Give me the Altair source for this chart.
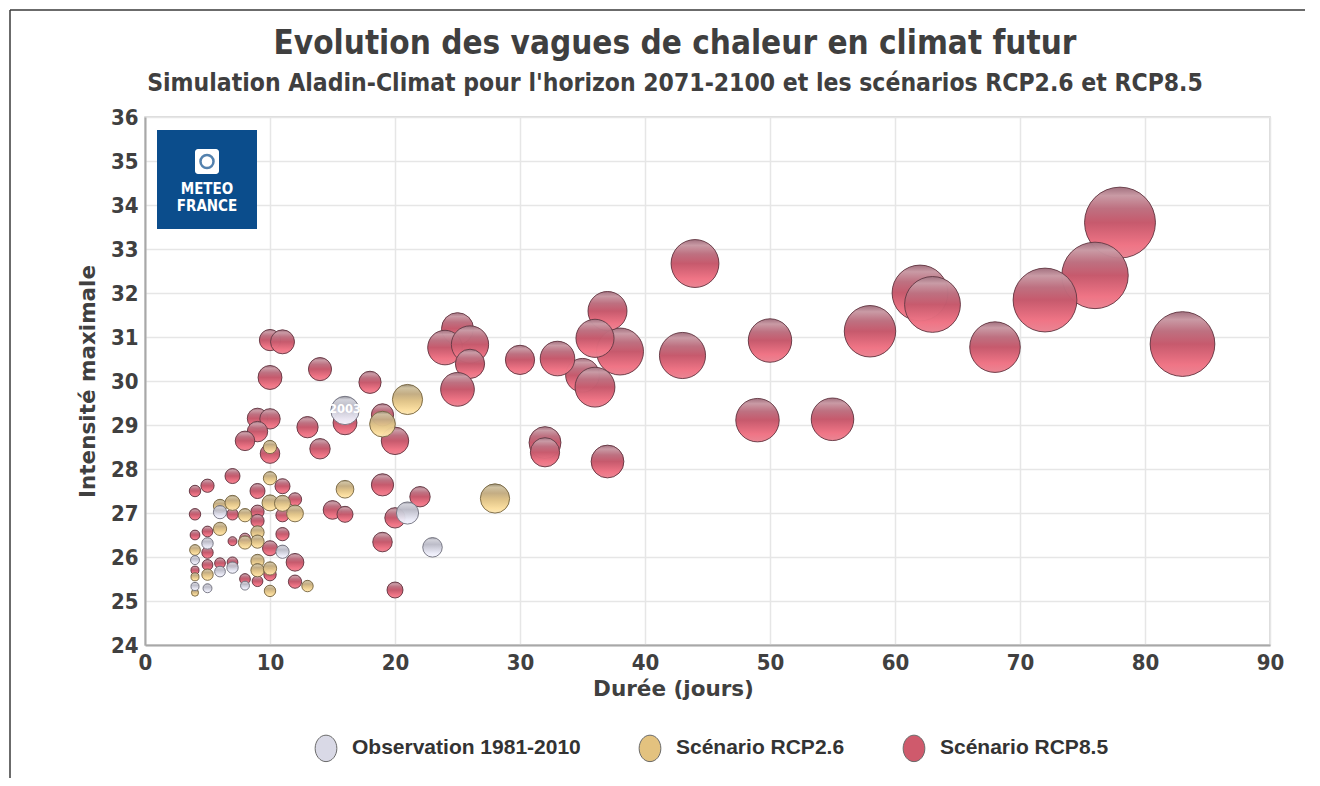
import altair as alt
import pandas as pd

# ---------------- data ----------------
# Observation 1981-2010
obs_duree = [16, 21, 23, 6, 5, 11, 4, 6, 7, 8, 4, 5]
obs_intensite = [29.33, 27.0, 26.22, 27.02, 26.31, 26.12, 25.93, 25.67, 25.76, 25.35, 25.33, 25.29]
obs_severite = [16.0, 9.8, 7.6, 3.5, 2.6, 3.5, 1.6, 2.3, 2.6, 1.6, 1.3, 1.6]

# Scénario RCP2.6
r26_duree = [21, 19, 16, 13, 12, 10, 10, 6, 7, 8, 10, 11, 9, 9, 6, 8, 4, 5, 4, 9, 9, 10, 4, 10, 28]
r26_intensite = [29.58, 29.02, 27.54, 25.34, 26.99, 28.5, 27.79, 27.16, 27.23, 26.95, 27.23, 27.22,
                 26.56, 26.35, 26.64, 26.33, 26.16, 25.6, 25.55, 25.91, 25.7, 25.74, 25.19, 25.23, 27.33]
r26_severite = [18.1, 13.1, 6.25, 2.6, 5.6, 3.5, 3.5, 3.5, 4.5, 3.5, 5.1, 5.1,
                3.5, 3.5, 3.5, 3.5, 2.3, 2.6, 1.3, 3.5, 3.5, 3.5, 1.0, 2.6, 17.0]

# Scénario RCP8.5
r85_duree = [78, 76, 72, 83, 62, 63, 68, 58, 55, 49, 50, 44, 43, 38, 37, 36, 35, 36, 33, 30,
             25, 24, 26, 26, 25, 32, 32, 37,
             14, 18, 16, 13, 14, 19, 20, 19, 22, 15, 16, 20, 19, 20,
             10, 11, 10, 9, 10, 9, 8, 10,
             7, 5, 4, 11, 9, 12, 4, 7, 9, 9, 11, 5, 4, 7, 8, 10, 11, 12, 5, 5, 4, 6, 7, 9, 10, 8, 12]
r85_intensite = [33.6, 32.4, 31.84, 30.84, 32.0, 31.74, 30.77, 31.13, 29.13, 29.11, 30.92, 32.67, 30.58,
                 30.67, 31.59, 30.97, 30.13, 29.86, 30.51, 30.48,
                 31.19, 30.76, 30.83, 30.39, 29.81, 28.6, 28.38, 28.17,
                 30.27, 29.97, 29.05, 28.95, 28.46, 29.23, 28.64, 27.64, 27.37, 27.07, 26.97, 26.89, 26.34, 25.25,
                 30.93, 30.89, 30.08, 29.15, 29.14, 28.85, 28.64, 28.35,
                 27.84, 27.62, 27.5, 27.61, 27.5, 27.31, 26.97, 26.97, 27.03, 26.82, 26.95, 26.58, 26.5, 26.36,
                 26.42, 26.2, 26.52, 25.88, 26.1, 25.82, 25.7, 25.86, 25.88, 25.45, 25.6, 25.5, 25.44]
r85_severite = [100.0, 87.9, 81.0, 83.3, 62.0, 62.0, 50.8, 52.6, 36.0, 37.5, 37.5, 45.6, 42.3, 43.9, 30.3,
                28.9, 22.6, 31.6, 23.8, 17.0,
                20.3, 23.8, 27.6, 17.0, 22.6, 20.3, 17.0, 21.4,
                10.6, 9.8, 11.4, 9.0, 8.3, 9.8, 15.0, 9.8, 8.3, 6.9, 5.1, 8.3, 7.6, 5.1,
                9.0, 11.4, 11.4, 8.3, 8.3, 8.3, 7.6, 7.6,
                4.5, 3.5, 2.6, 4.5, 4.5, 3.5, 2.6, 2.6, 3.5, 3.5, 3.5, 2.3, 1.9, 1.6, 2.3, 4.5, 3.5, 6.25,
                2.6, 2.3, 1.3, 2.3, 2.3, 2.3, 3.1, 2.3, 3.5]

series_names = ["Observation 1981-2010", "Scénario RCP2.6", "Scénario RCP8.5"]
legend_colors = ["#d9d9e6", "#e3c27f", "#cf5a6c"]

annot_label = ["2003"]
annot_duree = [16]
annot_intensite = [29.33]

title_text = "Evolution des vagues de chaleur en climat futur"
subtitle_text = "Simulation Aladin-Climat pour l'horizon 2071-2100 et les scénarios RCP2.6 et RCP8.5"
x_ticks = list(range(0, 91, 10))
y_ticks = list(range(24, 37))

# ---------------- tables ----------------
def table(d, i, s, name):
    return pd.DataFrame({"duree": d, "intensite": i, "severite": s, "serie": name})

df_obs = table(obs_duree, obs_intensite, obs_severite, series_names[0])
df_26 = table(r26_duree, r26_intensite, r26_severite, series_names[1])
df_85 = table(r85_duree, r85_intensite, r85_severite, series_names[2])
df_all = pd.concat([df_85, df_26, df_obs], ignore_index=True)
df_annot = pd.DataFrame({"label": annot_label, "duree": annot_duree, "intensite": annot_intensite})

FONT = "DejaVu Sans Condensed, DejaVu Sans"
TXT = "#404040"

x_enc = alt.X("duree:Q", scale=alt.Scale(domain=[0, 90], nice=False),
              axis=alt.Axis(values=x_ticks, title="Durée (jours)", titleX=528))
y_enc = alt.Y("intensite:Q", scale=alt.Scale(domain=[24, 36], nice=False, zero=False),
              axis=alt.Axis(values=y_ticks, title="Intensité maximale"))
size_enc = alt.Size("severite:Q", scale=alt.Scale(domain=[0, 100], range=[0, 5027]), legend=None)


def grad(stops):
    return alt.LinearGradient(gradient="linear", x1=0, x2=0, y1=0, y2=1,
                              stops=[alt.GradientStop(offset=o, color=c) for o, c in stops])


red_grad = grad([(0, "#a07280"), (0.12, "#c99ea8"), (0.3, "#bd7282"), (0.5, "#c65a6d"),
                 (0.82, "#f17687"), (1, "#ec8896")])
yel_grad = grad([(0, "#968c76"), (0.12, "#cfc2a3"), (0.32, "#c2ac84"), (0.55, "#e0c48a"),
                 (0.85, "#fde1a3"), (1, "#fbe8bb")])
obs_grad = grad([(0, "#92929b"), (0.12, "#d2d2da"), (0.35, "#bbbbc7"), (0.8, "#ececf8"),
                 (1, "#f6f6ff")])

ellipse = "M -0.82 0 A 0.82 1 0 1 1 0.82 0 A 0.82 1 0 1 1 -0.82 0 Z"

base_legend = alt.Chart(df_all).mark_circle(opacity=1).encode(
    x=x_enc, y=y_enc, size=size_enc,
    color=alt.Color("serie:N",
                    scale=alt.Scale(domain=series_names, range=legend_colors),
                    legend=alt.Legend(orient="none", legendX=167, legendY=617, direction="horizontal",
                                      title=None, labelFont="Liberation Sans", labelFontWeight="bold",
                                      labelFontSize=21, labelColor="#333333", symbolType=ellipse,
                                      symbolSize=700, symbolStrokeColor="#6a6a6a", labelLimit=400,
                                      symbolStrokeWidth=1, columnPadding=55, labelOffset=12)),
)


def bubbles(df, fill, stroke):
    return alt.Chart(df).mark_circle(fill=fill, fillOpacity=0.95, stroke=stroke, strokeWidth=1,
                                     strokeOpacity=0.85, opacity=1).encode(
        x="duree:Q", y="intensite:Q", size=size_enc)


layer_85 = bubbles(df_85, red_grad, "#5a3540")
layer_26 = bubbles(df_26, yel_grad, "#6e5f3e")
layer_obs = bubbles(df_obs, obs_grad, "#6b6b78")

annot = alt.Chart(df_annot).mark_text(font="DejaVu Sans", fontWeight="bold", fontSize=11.5,
                                      color="white").encode(x="duree:Q", y="intensite:Q", text="label:N")

# titles, logo and page frame (decoration)
one = pd.DataFrame({"k": [0]})
title_mark = alt.Chart(one).mark_text(text=title_text, font=FONT, fontSize=33, fontWeight="bold",
                                      color="#3f3f3f", align="center", baseline="middle").encode(
    x=alt.value(530), y=alt.value(-73))
subtitle_mark = alt.Chart(one).mark_text(text=subtitle_text, font=FONT, fontSize=24.5, fontWeight="bold",
                                         color="#3f3f3f", align="center", baseline="middle").encode(
    x=alt.value(530), y=alt.value(-33))
logo_box = alt.Chart(one).mark_rect(color="#0b4d8c").encode(
    x=alt.value(12), x2=alt.value(112), y=alt.value(13), y2=alt.value(112))
logo_icon = alt.Chart(one).mark_rect(color="white", cornerRadius=3).encode(
    x=alt.value(50), x2=alt.value(74), y=alt.value(32), y2=alt.value(57))
logo_ring = alt.Chart(one).mark_point(shape="circle", filled=False, stroke="#0b4d8c", strokeWidth=2.5,
                                      size=170).encode(x=alt.value(62), y=alt.value(44.5))
logo_t1 = alt.Chart(one).mark_text(text="METEO", font=FONT,
                                   fontWeight="bold", fontSize=15, color="white").encode(
    x=alt.value(62), y=alt.value(72))
logo_t2 = alt.Chart(one).mark_text(text="FRANCE", font=FONT,
                                   fontWeight="bold", fontSize=15, color="white").encode(
    x=alt.value(62), y=alt.value(89))
frame_top = alt.Chart(one).mark_rule(color="#3a3a3a", strokeWidth=1.5).encode(
    x=alt.value(-135), x2=alt.value(1160), y=alt.value(-107))
frame_left = alt.Chart(one).mark_rule(color="#3a3a3a", strokeWidth=1.5).encode(
    x=alt.value(-135), y=alt.value(-107), y2=alt.value(661))

chart = alt.layer(
    base_legend, layer_85, layer_26, layer_obs, annot, title_mark, subtitle_mark,
    logo_box, logo_icon, logo_ring, logo_t1, logo_t2, frame_top, frame_left,
).properties(
    width=1125, height=528,
    background="white",
    padding={"left": 137, "top": 109, "right": 42, "bottom": 133},
    autosize=alt.AutoSizeParams(type="none"),
).configure_axis(
    labelFont=FONT, labelFontWeight="bold", labelFontSize=22, labelColor=TXT, labelFlush=False,
    titleFont="DejaVu Sans", titleFontWeight="bold", titleFontSize=21.5, titleColor=TXT,
    gridColor="#e6e6e6", gridWidth=1.5, domainColor="#a8a8a8", domainWidth=2,
    ticks=False, labelPadding=7,
).configure_axisX(titlePadding=5).configure_axisY(titlePadding=11).configure_view(
    stroke="#cfcfcf", strokeWidth=1.5
)

chart.save("out.html", embed_options={"renderer": "svg", "actions": False})
